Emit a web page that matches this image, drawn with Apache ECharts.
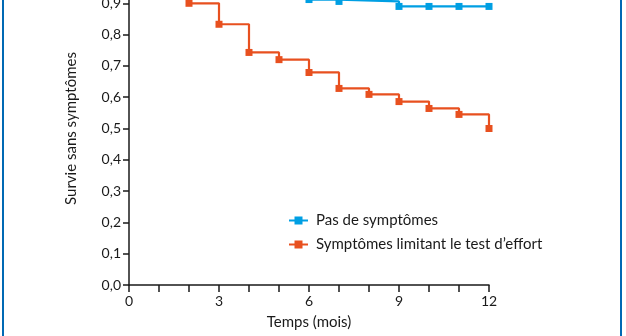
<!DOCTYPE html>
<html><head><meta charset="utf-8">
<script src="https://cdn.jsdelivr.net/npm/echarts@6/dist/echarts.min.js"></script>
<style>
html,body{margin:0;padding:0;background:#fff;}
#wrap{position:relative;width:626px;height:336px;overflow:hidden;}
#c{position:absolute;left:0;top:-28px;width:626px;height:364px;}
.frame{position:absolute;top:0;bottom:0;width:2px;background:#0069b4;}
</style></head>
<body><div id="wrap"><div id="c"></div><div class="frame" style="left:2px"></div><div class="frame" style="left:620px"></div></div>
<script>
const seriesNames = ['Pas de symptômes', 'Symptômes limitant le test d\u2019effort'];
const noSymptomsMonths = [0, 6, 7, 9, 10, 11, 12];
const noSymptomsValues = [1.0, 0.912, 0.906, 0.89, 0.89, 0.89, 0.89];
const limitingMonths = [0, 2, 3, 4, 5, 6, 7, 8, 9, 10, 11, 12];
const limitingValues = [1.0, 0.90, 0.833, 0.743, 0.72, 0.679, 0.628, 0.609, 0.586, 0.564, 0.545, 0.50];
const xTickLabels = ['0', '3', '6', '9', '12'];
const yAxisTitle = 'Survie sans symptômes';
const xAxisTitle = 'Temps (mois)';

const FONT = 'Lato';
const pairs = (xs, ys) => xs.map((x, i) => [x, ys[i]]);
const chart = echarts.init(document.getElementById('c'), null, {renderer: 'canvas'});
chart.setOption({
  animation: false,
  backgroundColor: '#fff',
  textStyle: {fontFamily: FONT},
  grid: {left: 129, right: 137, top: 0, bottom: 51, containLabel: false, outerBoundsMode: 'none'},
  legend: {
    orient: 'vertical', left: 283, top: 236, itemGap: 9, itemWidth: 19, itemHeight: 10,
    textStyle: {fontFamily: FONT, fontSize: 15, color: '#1a1a1a', padding: [0, 0, 0, 3]},
    data: seriesNames
  },
  xAxis: {
    type: 'value', min: 0, max: 12, interval: 1,
    name: xAxisTitle, nameLocation: 'middle', nameGap: 30,
    nameTextStyle: {fontFamily: FONT, fontSize: 15, color: '#1a1a1a'},
    axisLine: {lineStyle: {color: '#1a1a1a', width: 1.5}},
    axisTick: {length: 7, lineStyle: {color: '#1a1a1a', width: 1.5}},
    axisLabel: {margin: 9, fontSize: 14, color: '#1a1a1a', fontFamily: FONT,
      formatter: v => xTickLabels.includes(String(v)) ? String(v) : ''},
    splitLine: {show: false}
  },
  yAxis: {
    type: 'value', min: 0, max: 1, interval: 0.1,
    name: yAxisTitle, nameLocation: 'middle', nameGap: 50, nameRotate: 90,
    nameTextStyle: {fontFamily: FONT, fontSize: 15, color: '#1a1a1a'},
    axisLine: {show: true, lineStyle: {color: '#1a1a1a', width: 1.5}},
    axisTick: {show: true, length: 6, lineStyle: {color: '#1a1a1a', width: 1.5}},
    axisLabel: {margin: 8, fontSize: 14, color: '#1a1a1a', fontFamily: FONT,
      formatter: v => v.toFixed(1).replace('.', ',')},
    splitLine: {show: false}
  },
  series: [
    {name: seriesNames[0], type: 'line', step: 'end', data: pairs(noSymptomsMonths, noSymptomsValues),
     symbol: 'rect', symbolSize: 7, color: '#009fe3', lineStyle: {width: 2.2}, itemStyle: {color: '#009fe3'}, clip: false},
    {name: seriesNames[1], type: 'line', step: 'end', data: pairs(limitingMonths, limitingValues),
     symbol: 'rect', symbolSize: 7, color: '#e8501f', lineStyle: {width: 2.2}, itemStyle: {color: '#e8501f'}, clip: false}
  ]
});
</script></body></html>
